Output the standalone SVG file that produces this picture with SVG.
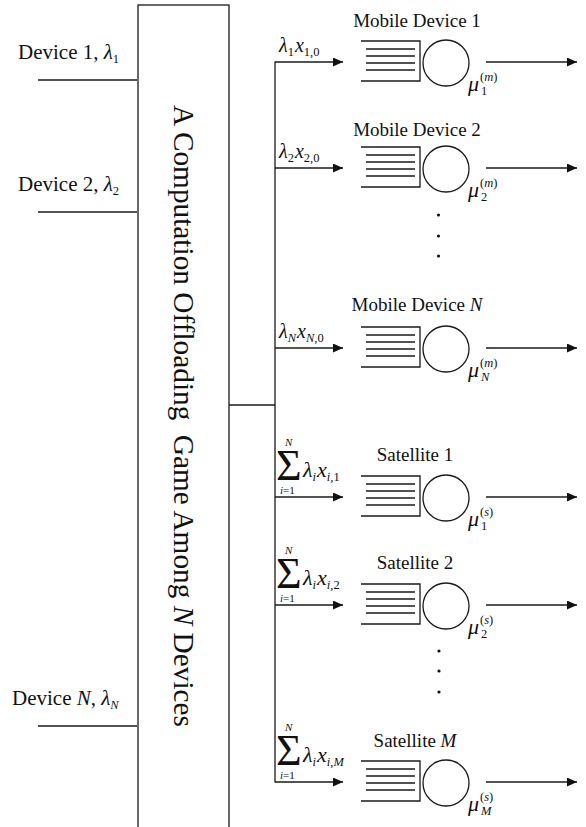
<svg xmlns="http://www.w3.org/2000/svg" width="586" height="827" viewBox="0 0 586 827">
<defs>
<marker id="ah" markerUnits="userSpaceOnUse" markerWidth="11" markerHeight="10" refX="10" refY="4.5" orient="auto">
<path d="M0,0 L10,4.5 L0,9 z" fill="#111"/>
</marker>
<style>
.ln{stroke:#1a1a1a;stroke-width:1.3;fill:none}
.ar{stroke:#1a1a1a;stroke-width:1.3;fill:none;marker-end:url(#ah)}
text{font-family:"Liberation Serif","Times New Roman",serif;fill:#111}
.lbl{font-size:21px}
.ttl{font-size:19px}
.m{font-size:20px}
.ms{font-size:22px}
.sig{font-size:44px}
.i{font-style:italic}
.sb{font-size:12.5px}
.sn{font-size:11px}
.mu{font-size:22px;font-style:italic}
.dot{fill:#111}
</style>
</defs>
<rect width="586" height="827" fill="#fff"/>

<g id="game">
<rect x="138" y="5" width="91" height="830" class="ln"/>
<text transform="translate(174,105) rotate(90)" font-size="29" textLength="622" lengthAdjust="spacingAndGlyphs">A Computation Offloading <tspan dx="7">Game Among </tspan><tspan class="i">N</tspan> Devices</text>
</g>

<g id="device1">
<text class="lbl" x="18" y="59">Device 1, <tspan class="i">λ</tspan><tspan class="sb" dy="4">1</tspan></text>
</g>
<g id="device2">
<text class="lbl" x="18" y="191">Device 2, <tspan class="i">λ</tspan><tspan class="sb" dy="4">2</tspan></text>
</g>
<g id="deviceN">
<text class="lbl" x="12" y="705">Device <tspan class="i">N</tspan>, <tspan class="i">λ</tspan><tspan class="sb i" dy="4">N</tspan></text>
</g>

<g id="connectors">
<line class="ln" x1="38" y1="80" x2="137" y2="80"/>
<line class="ln" x1="38" y1="212" x2="137" y2="212"/>
<line class="ln" x1="38" y1="726" x2="137" y2="726"/>
<line class="ln" x1="229" y1="405" x2="275" y2="405"/>
<line class="ln" x1="275" y1="61.4" x2="275" y2="782.6"/>
<line class="ar" x1="275" y1="62" x2="343" y2="62"/>
<line class="ar" x1="275" y1="168" x2="343" y2="168"/>
<line class="ar" x1="275" y1="348" x2="343" y2="348"/>
<line class="ar" x1="275" y1="497" x2="343" y2="497"/>
<line class="ar" x1="275" y1="605" x2="343" y2="605"/>
<line class="ar" x1="275" y1="782" x2="343" y2="782"/>
<line class="ar" x1="486" y1="62" x2="577" y2="62"/>
<line class="ar" x1="486" y1="168" x2="577" y2="168"/>
<line class="ar" x1="486" y1="348" x2="577" y2="348"/>
<line class="ar" x1="486" y1="497" x2="577" y2="497"/>
<line class="ar" x1="486" y1="605" x2="577" y2="605"/>
<line class="ar" x1="486" y1="782" x2="577" y2="782"/>
<text class="m" x="279" y="52"><tspan class="i">λ</tspan><tspan class="sb" dy="4">1</tspan><tspan class="i" dy="-4" dx="1">x</tspan><tspan class="sb" dy="4">1,0</tspan></text>
<text class="m" x="279" y="158"><tspan class="i">λ</tspan><tspan class="sb" dy="4">2</tspan><tspan class="i" dy="-4" dx="1">x</tspan><tspan class="sb" dy="4">2,0</tspan></text>
<text class="m" x="279" y="338"><tspan class="i">λ</tspan><tspan class="sb i" dy="4">N</tspan><tspan class="i" dy="-4" dx="1">x</tspan><tspan class="sb" dy="4"><tspan class="i">N</tspan>,0</tspan></text>
<g transform="translate(0,497)">
<text class="sig"><tspan x="276" y="-17">Σ</tspan><tspan class="sn i" x="285" y="-51">N</tspan><tspan class="sn" x="280" y="-3"><tspan class="i">i</tspan>=1</tspan></text>
<text class="ms" x="303" y="-20"><tspan class="i">λ</tspan><tspan class="sb i" dy="4">i</tspan><tspan class="i" dy="-4" dx="1">x</tspan><tspan class="sb" dy="4"><tspan class="i">i</tspan>,1</tspan></text>
</g>
<g transform="translate(0,605)">
<text class="sig"><tspan x="276" y="-17">Σ</tspan><tspan class="sn i" x="285" y="-51">N</tspan><tspan class="sn" x="280" y="-3"><tspan class="i">i</tspan>=1</tspan></text>
<text class="ms" x="303" y="-20"><tspan class="i">λ</tspan><tspan class="sb i" dy="4">i</tspan><tspan class="i" dy="-4" dx="1">x</tspan><tspan class="sb" dy="4"><tspan class="i">i</tspan>,2</tspan></text>
</g>
<g transform="translate(0,782)">
<text class="sig"><tspan x="276" y="-17">Σ</tspan><tspan class="sn i" x="285" y="-51">N</tspan><tspan class="sn" x="280" y="-3"><tspan class="i">i</tspan>=1</tspan></text>
<text class="ms" x="303" y="-20"><tspan class="i">λ</tspan><tspan class="sb i" dy="4">i</tspan><tspan class="i" dy="-4" dx="1">x</tspan><tspan class="sb" dy="4"><tspan class="i">i</tspan>,<tspan class="i">M</tspan></tspan></text>
</g>
</g>

<g id="md1" transform="translate(0,62)">
<text class="ttl" x="417" y="-35" text-anchor="middle">Mobile Device 1</text>
<path class="ln" d="M361,-21 H420 V19 H361"/>
<path class="ln" d="M366,-13 H415 M366,-6 H415 M366,1 H415 M366,8 H415"/>
<circle class="ln" cx="446" cy="1" r="23"/>
<text class="mu" x="468" y="29">μ</text>
<text class="sb" x="481" y="33">1</text>
<text class="sb" x="480" y="19">(<tspan class="i">m</tspan>)</text>
</g>
<g id="md2" transform="translate(0,168)">
<text class="ttl" x="417" y="-32" text-anchor="middle">Mobile Device 2</text>
<path class="ln" d="M361,-21 H420 V19 H361"/>
<path class="ln" d="M366,-13 H415 M366,-6 H415 M366,1 H415 M366,8 H415"/>
<circle class="ln" cx="446" cy="1" r="23"/>
<text class="mu" x="468" y="29">μ</text>
<text class="sb" x="481" y="33">2</text>
<text class="sb" x="480" y="19">(<tspan class="i">m</tspan>)</text>
</g>
<g id="mdN" transform="translate(0,348)">
<text class="ttl" x="417" y="-37" text-anchor="middle">Mobile Device <tspan class="i">N</tspan></text>
<path class="ln" d="M361,-21 H420 V19 H361"/>
<path class="ln" d="M366,-13 H415 M366,-6 H415 M366,1 H415 M366,8 H415"/>
<circle class="ln" cx="446" cy="1" r="23"/>
<text class="mu" x="468" y="29">μ</text>
<text class="sb i" x="481" y="33">N</text>
<text class="sb" x="480" y="19">(<tspan class="i">m</tspan>)</text>
</g>
<g id="dots1">
<circle class="dot" cx="438.5" cy="215" r="1.6"/>
<circle class="dot" cx="438.5" cy="236" r="1.6"/>
<circle class="dot" cx="438.5" cy="256" r="1.6"/>
</g>
<g id="sat1" transform="translate(0,497)">
<text class="ttl" x="415" y="-36" text-anchor="middle">Satellite 1</text>
<path class="ln" d="M361,-21 H420 V19 H361"/>
<path class="ln" d="M366,-13 H415 M366,-6 H415 M366,1 H415 M366,8 H415"/>
<circle class="ln" cx="446" cy="1" r="23"/>
<text class="mu" x="468" y="29">μ</text>
<text class="sb" x="481" y="33">1</text>
<text class="sb" x="480" y="19">(<tspan class="i">s</tspan>)</text>
</g>
<g id="sat2" transform="translate(0,605)">
<text class="ttl" x="415" y="-36" text-anchor="middle">Satellite 2</text>
<path class="ln" d="M361,-21 H420 V19 H361"/>
<path class="ln" d="M366,-13 H415 M366,-6 H415 M366,1 H415 M366,8 H415"/>
<circle class="ln" cx="446" cy="1" r="23"/>
<text class="mu" x="468" y="29">μ</text>
<text class="sb" x="481" y="33">2</text>
<text class="sb" x="480" y="19">(<tspan class="i">s</tspan>)</text>
</g>
<g id="dots2">
<circle class="dot" cx="439" cy="651" r="1.6"/>
<circle class="dot" cx="439" cy="671" r="1.6"/>
<circle class="dot" cx="439" cy="692" r="1.6"/>
</g>
<g id="satM" transform="translate(0,782)">
<text class="ttl" x="415" y="-35" text-anchor="middle">Satellite <tspan class="i">M</tspan></text>
<path class="ln" d="M361,-21 H420 V19 H361"/>
<path class="ln" d="M366,-13 H415 M366,-6 H415 M366,1 H415 M366,8 H415"/>
<circle class="ln" cx="446" cy="1" r="23"/>
<text class="mu" x="468" y="29">μ</text>
<text class="sb i" x="481" y="33">M</text>
<text class="sb" x="480" y="19">(<tspan class="i">s</tspan>)</text>
</g>
</svg>
